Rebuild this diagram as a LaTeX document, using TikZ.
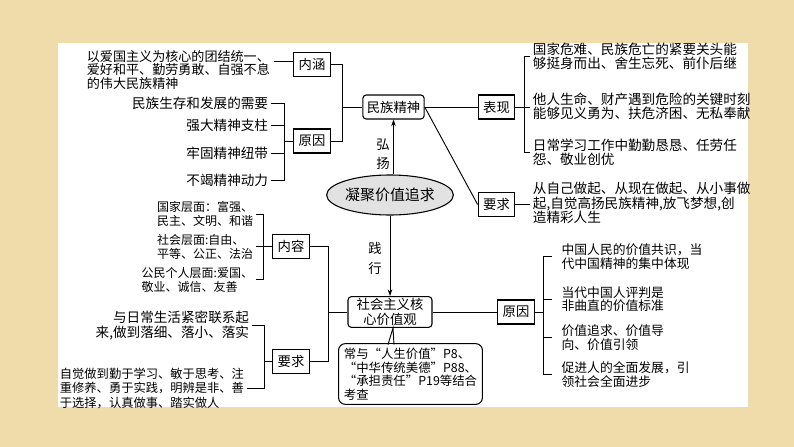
\documentclass[tikz,border=0pt]{standalone}
\usepackage{fontspec}
\setmainfont{Noto Sans CJK SC}
\usetikzlibrary{arrows.meta,shapes.geometric,calc}

\definecolor{paper}{RGB}{240,219,170}
\definecolor{ovalgray}{RGB}{226,226,226}
\newcommand{\fs}[2]{\fontsize{#1pt}{#2pt}\selectfont}

\tikzset{
  kbox/.style={draw, line width=0.8pt, minimum width=27.5pt, minimum height=18pt, inner sep=1pt, font=\fs{10}{11}},
  rbox/.style={kbox, rounded corners=2.5pt},
  txt/.style={align=left, inner xsep=2pt, inner ysep=0pt, font=\fs{10.2}{10.6}},
  link/.style={line width=0.7pt},
  push/.style={line width=0.7pt, -{Stealth[length=5pt,width=3.4pt]}},
}

\begin{document}
\begin{tikzpicture}[x=0.75pt,y=-0.75pt]
 % paper and sheet
 \fill[paper] (0,0) rectangle (794,447);
 \fill[white] (58,43) rectangle (748,407);
 \useasboundingbox (0,0) rectangle (794,447);

 % centre
 \node[ellipse, draw, fill=ovalgray, line width=0.8pt, minimum width=79pt, minimum height=30pt, inner sep=0pt, font=\fs{11.2}{12}] (ningju) at (390,195) {凝聚价值追求};
 \node[rbox, minimum width=46pt] (mzjs) at (393.5,107) {民族精神};
 \node[rbox, minimum width=63pt, minimum height=23pt, align=center, font=\fs{10}{11}] (hexin) at (390,312) {社会主义核\\心价值观};

 \draw[push] (mzjs.south |- ningju.north) -- (mzjs.south);
 \node[font=\fs{10}{10}] (hong) at (383,145) {弘};
 \node[font=\fs{10}{10}] (yang) at (383,163) {扬};
 \draw[push] (ningju.south) -- (hexin.north);
 \node[font=\fs{10}{10}] (jian) at (375,248) {践};
 \node[font=\fs{10}{10}] (xing) at (375,268) {行};

 % upper left
 \node[kbox] (neihan) at (312,64.5) {内涵};
 \node[kbox] (yuanyin) at (312,141) {原因};
 \node[txt, anchor=west, font=\fs{9.8}{9.9}] (yiai) at (84,70) {以爱国主义为核心的团结统一、\\爱好和平、勤劳勇敢、自强不息\\的伟大民族精神};
 \coordinate (yiaiend) at (274,61);
 \draw[link] (yiaiend) -- (yiaiend -| neihan.west);

 \node[txt, anchor=east] (xuyao) at (271,103) {民族生存和发展的需要};
 \node[txt, anchor=east] (zhizhu) at (271,125) {强大精神支柱};
 \node[txt, anchor=east] (niudai) at (271,153) {牢固精神纽带};
 \node[txt, anchor=east] (dongli) at (271,180) {不竭精神动力};
 \coordinate (brA) at (284,0);
 \draw[link] (xuyao.east) -- (xuyao.east -| brA) -- (dongli.east -| brA) -- (dongli.east);
 \draw[link] (zhizhu.east) -- (zhizhu.east -| brA);
 \draw[link] (niudai.east) -- (niudai.east -| brA);
 \draw[link] (yuanyin.west) -- (yuanyin.west -| brA);

 \coordinate (brB) at (342,0);
 \draw[link] (neihan.east) -- (neihan.east -| brB) -- (yuanyin.east -| brB) -- (yuanyin.east);
 \draw[link] (mzjs.west -| brB) -- (mzjs.west);

 % upper right
 \node[kbox] (biaoxian) at (496.5,107) {表现};
 \node[kbox] (yaoqiu) at (496.5,204.5) {要求};
 \draw[link] (mzjs.east) -- (biaoxian.west);
 \draw[link] (mzjs.east) -- (yaoqiu.west);

 \node[txt, anchor=west] (weinan) at (530,56) {国家危难、民族危亡的紧要关头能\\够挺身而出、舍生忘死、前仆后继};
 \node[txt, anchor=west] (yiyong) at (530,106) {他人生命、财产遇到危险的关键时刻\\能够见义勇为、扶危济困、无私奉献};
 \node[txt, anchor=west] (qinken) at (530,152.5) {日常学习工作中勤勤恳恳、任劳任\\怨、敬业创优};
 \coordinate (brC) at (524,0);
 \draw[link] (weinan.west) -- (weinan.west -| brC) -- (qinken.west -| brC) -- (qinken.west);
 \draw[link] (biaoxian.east) -- (biaoxian.east -| yiyong.west);

 \node[txt, anchor=west, font=\fs{10.2}{10.9}] (zuoqi) at (530,203) {从自己做起、从现在做起、从小事做\\起,自觉高扬民族精神,放飞梦想,创\\造精彩人生};
 \draw[link] (yaoqiu.east) -- (yaoqiu.east -| zuoqi.west);

 % lower left
 \node[kbox] (neirong) at (291,246.5) {内容};
 \node[kbox] (yaoqiux) at (291,361.5) {要求};
 \node[txt, anchor=east, font=\fs{9}{10.5}] (guojia) at (256,214) {国家层面：富强、\\民主、文明、和谐};
 \node[txt, anchor=east, font=\fs{9}{10.5}] (shehui) at (256,246.5) {社会层面:自由、\\平等、公正、法治};
 \node[txt, anchor=east, font=\fs{9}{10.5}] (gongmin) at (256,279.5) {公民个人层面:爱国、\\敬业、诚信、友善};
 \coordinate (brD) at (263,0);
 \draw[link] (guojia.east) -- (guojia.east -| brD) -- (gongmin.east -| brD) -- (gongmin.east);
 \draw[link] (shehui.east) -- (neirong.west);

 \node[txt, anchor=east, align=right] (lianxi) at (252,325.5) {与日常生活紧密联系起\\来,做到落细、落小、落实};
 \node[txt, anchor=west, font=\fs{9.2}{10.9}] (qinyu) at (57,388) {自觉做到勤于学习、敏于思考、注\\重修养、勇于实践，明辨是非、善\\于选择，认真做事、踏实做人};
 \coordinate (brE) at (264,0);
 \draw[link] (lianxi.east) -- (lianxi.east -| brE) -- (qinyu.east -| brE) -- (qinyu.east);
 \draw[link] (yaoqiux.west) -- (yaoqiux.west -| brE);

 \coordinate (brF) at (328,0);
 \draw[link] (neirong.east) -- (neirong.east -| brF) -- (yaoqiux.east -| brF) -- (yaoqiux.east);
 \draw[link] (hexin.west -| brF) -- (hexin.west);

 % lower right
 \node[kbox] (yuanyinx) at (516,312) {原因};
 \draw[link] (hexin.east) -- (yuanyinx.west);
 \node[txt, anchor=west, inner xsep=7pt, font=\fs{9.6}{10.2}] (gongshi) at (552,256.5) {中国人民的价值共识，当\\代中国精神的集中体现};
 \node[txt, anchor=west, inner xsep=7pt, font=\fs{9.6}{10.2}] (pingpan) at (552,299) {当代中国人评判是\\非曲直的价值标准};
 \node[txt, anchor=west, inner xsep=7pt, font=\fs{9.6}{10.2}] (yinling) at (552,337.5) {价值追求、价值导\\向、价值引领};
 \node[txt, anchor=west, inner xsep=7pt, font=\fs{9.6}{10.2}] (jinbu) at (552,374.5) {促进人的全面发展，引\\领社会全面进步};
 \coordinate (brG) at (543,0);
 \draw[link] (gongshi.west) -- (gongshi.west -| brG) -- (jinbu.west -| brG) -- (jinbu.west);
 \draw[link] (pingpan.west) -- (pingpan.west -| brG);
 \draw[link] (yinling.west) -- (yinling.west -| brG);
 \draw[link] (yuanyinx.east) -- (yuanyinx.east -| brG);

 % callout
 \node[draw, rounded corners=5pt, line width=0.8pt, minimum width=104pt, minimum height=44pt, align=left, inner xsep=4pt, font=\fs{9.3}{10.1}] (chang) at (410.5,374) {常与“人生价值”P8、\\“中华传统美德”P88、\\“承担责任”P19等结合\\考查};
 \coordinate (wedgeL) at (388,344.7);
 \coordinate (wedgeR) at (394,344.7);
 \coordinate (wedgeT) at ($(hexin.south)+(3,0)$);
 \fill[white] ($(wedgeL)+(0.8,-1)$) rectangle ($(wedgeR)+(-0.8,1.2)$);
 \draw[line width=0.7pt] (wedgeL) -- (wedgeT) -- (wedgeR);
\end{tikzpicture}
\end{document}
